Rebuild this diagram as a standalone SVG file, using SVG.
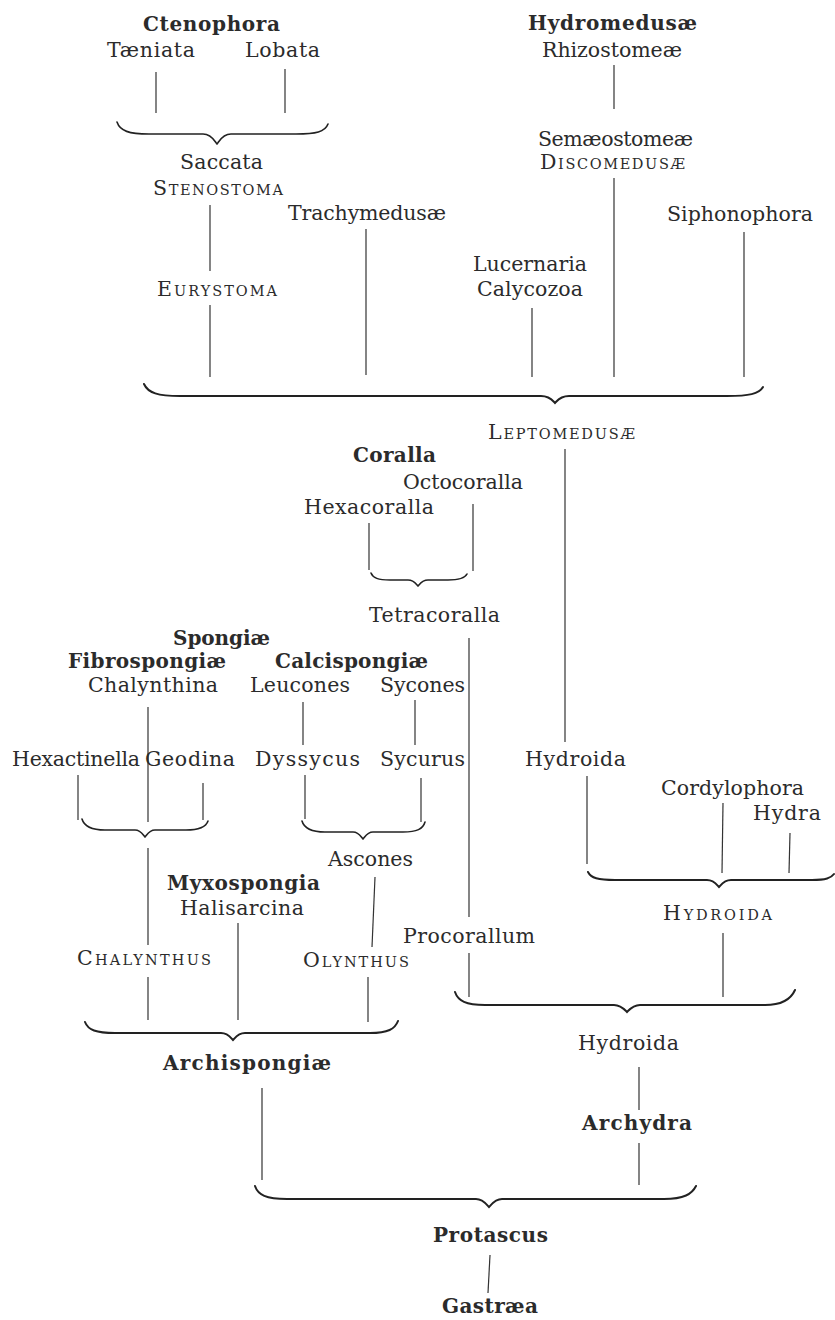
<svg xmlns="http://www.w3.org/2000/svg" width="835" height="1320" viewBox="0 0 835 1320">
<style>
.t{font-family:"DejaVu Serif","Liberation Serif",serif;font-size:20.5px;fill:#2b2b2b}
.b{font-weight:bold;font-size:20px}
.sc{font-size:14.5px}
.c line{stroke:#333;stroke-width:1.2;fill:none}
.c path{stroke:#222;stroke-width:2;fill:none;stroke-linecap:round}
.c path.s{stroke-width:1.6}
</style>
<rect width="835" height="1320" fill="#fff"/>
<g id="connectors" class="c">
<line x1="156" y1="72" x2="156" y2="113"/>
<line x1="285" y1="69" x2="285" y2="113"/>
<path class="s" d="M117,122 C120,131 129,134 149,134 L203,134 C212,134 215,142 217,144 C219,142 222,134 231,134 L296,134 C316,134 325,132 328,124"/>
<line x1="210" y1="205" x2="210" y2="271"/>
<line x1="210" y1="305" x2="210" y2="377"/>
<line x1="366" y1="229" x2="366" y2="375"/>
<line x1="614" y1="65" x2="614" y2="109"/>
<line x1="614" y1="178" x2="614" y2="377"/>
<line x1="532" y1="308" x2="532" y2="377"/>
<line x1="744" y1="232" x2="744" y2="377"/>
<path d="M144,384 C148,393 158,396 180,396 L541,396 C550,396 553,401 555,403 C557,401 560,396 569,396 L727,396 C749,396 759,394 763,387"/>
<line x1="565" y1="449" x2="565" y2="742"/>
<line x1="473" y1="504" x2="473" y2="571"/>
<line x1="369" y1="523" x2="369" y2="570"/>
<path class="s" d="M371,573 C373,578 378,580 390,580 L408,580 C414,580 416,584 418,586 C420,584 422,580 428,580 L448,580 C460,580 465,578 467,574"/>
<line x1="469" y1="638" x2="469" y2="917"/>
<line x1="469" y1="953" x2="469" y2="997"/>
<line x1="148" y1="707" x2="148" y2="822"/>
<line x1="303" y1="702" x2="303" y2="745"/>
<line x1="415" y1="700" x2="415" y2="745"/>
<line x1="78" y1="775" x2="78" y2="820"/>
<line x1="203" y1="783" x2="203" y2="820"/>
<line x1="305" y1="775" x2="305" y2="819"/>
<line x1="421" y1="778" x2="421" y2="822"/>
<path class="s" d="M82,819 C84,826 90,830 105,830 L135,830 C141,830 143,835 145,837 C147,835 149,830 155,830 L186,830 C200,830 206,827 208,821"/>
<path class="s" d="M302,821 C304,828 310,832 325,832 L353,832 C359,832 361,837 363,839 C365,837 367,832 373,832 L403,832 C417,832 423,829 425,822"/>
<line x1="148" y1="848" x2="148" y2="945"/>
<line x1="148" y1="977" x2="148" y2="1020"/>
<line x1="375" y1="877" x2="372" y2="947"/>
<line x1="368" y1="977" x2="368" y2="1022"/>
<line x1="238" y1="923" x2="238" y2="1020"/>
<path d="M85,1022 C88,1030 96,1033 115,1033 L221,1033 C228,1033 231,1038 233,1040 C235,1038 238,1033 245,1033 L370,1033 C388,1033 395,1029 398,1021"/>
<line x1="262" y1="1088" x2="262" y2="1180"/>
<line x1="587" y1="776" x2="587" y2="864"/>
<line x1="723" y1="803" x2="722" y2="873"/>
<line x1="790" y1="833" x2="789" y2="873"/>
<path d="M588,872 C591,878 598,880 615,880 L707,880 C714,880 717,885 719,887 C721,885 724,880 731,880 L812,880 C826,880 831,878 834,874"/>
<line x1="723" y1="933" x2="723" y2="997"/>
<path d="M455,992 C458,1001 466,1005 485,1005 L614,1005 C621,1005 625,1010 627,1012 C629,1010 633,1005 640,1005 L765,1005 C783,1005 791,999 795,990"/>
<line x1="639" y1="1067" x2="639" y2="1110"/>
<line x1="639" y1="1143" x2="639" y2="1185"/>
<path d="M255,1186 C258,1195 266,1199 287,1199 L476,1199 C483,1199 487,1205 489,1207 C491,1205 495,1199 502,1199 L664,1199 C684,1199 692,1194 696,1186"/>
<line x1="490" y1="1255" x2="488" y2="1293"/>
</g>
<g id="n-ctenophora"><text class="t b" x="143" y="31" textLength="137" lengthAdjust="spacing">Ctenophora</text></g>
<g id="n-taeniata"><text class="t" x="107" y="57" textLength="88" lengthAdjust="spacing">Tæniata</text></g>
<g id="n-lobata"><text class="t" x="245" y="57" textLength="75" lengthAdjust="spacing">Lobata</text></g>
<g id="n-saccata"><text class="t" x="180" y="169" textLength="83" lengthAdjust="spacing">Saccata</text></g>
<g id="n-stenostoma"><text class="t" x="153" y="195" textLength="130" lengthAdjust="spacing">S<tspan class="sc">TENOSTOMA</tspan></text></g>
<g id="n-eurystoma"><text class="t" x="157" y="296" textLength="120" lengthAdjust="spacing">E<tspan class="sc">URYSTOMA</tspan></text></g>
<g id="n-trachymedusae"><text class="t" x="288" y="220" textLength="158" lengthAdjust="spacing">Trachymedusæ</text></g>
<g id="n-hydromedusae"><text class="t b" x="528" y="30" textLength="169" lengthAdjust="spacing">Hydromedusæ</text></g>
<g id="n-rhizostomeae"><text class="t" x="542" y="57" textLength="140" lengthAdjust="spacing">Rhizostomeæ</text></g>
<g id="n-semaeostomeae"><text class="t" x="538" y="146" textLength="155" lengthAdjust="spacing">Semæostomeæ</text></g>
<g id="n-discomedusae"><text class="t" x="540" y="169" textLength="145" lengthAdjust="spacing">D<tspan class="sc">ISCOMEDUSÆ</tspan></text></g>
<g id="n-siphonophora"><text class="t" x="667" y="221" textLength="146" lengthAdjust="spacing">Siphonophora</text></g>
<g id="n-lucernaria"><text class="t" x="473" y="271" textLength="114" lengthAdjust="spacing">Lucernaria</text></g>
<g id="n-calycozoa"><text class="t" x="477" y="296" textLength="106" lengthAdjust="spacing">Calycozoa</text></g>
<g id="n-leptomedusae"><text class="t" x="488" y="439" textLength="147" lengthAdjust="spacing">L<tspan class="sc">EPTOMEDUSÆ</tspan></text></g>
<g id="n-coralla"><text class="t b" x="353" y="462" textLength="83" lengthAdjust="spacing">Coralla</text></g>
<g id="n-octocoralla"><text class="t" x="403" y="489" textLength="120" lengthAdjust="spacing">Octocoralla</text></g>
<g id="n-hexacoralla"><text class="t" x="304" y="514" textLength="130" lengthAdjust="spacing">Hexacoralla</text></g>
<g id="n-tetracoralla"><text class="t" x="369" y="622" textLength="131" lengthAdjust="spacing">Tetracoralla</text></g>
<g id="n-spongiae"><text class="t b" x="173" y="645" textLength="97" lengthAdjust="spacing">Spongiæ</text></g>
<g id="n-fibrospongiae"><text class="t b" x="68" y="668" textLength="158" lengthAdjust="spacing">Fibrospongiæ</text></g>
<g id="n-calcispongiae"><text class="t b" x="275" y="668" textLength="153" lengthAdjust="spacing">Calcispongiæ</text></g>
<g id="n-chalynthina"><text class="t" x="88" y="692" textLength="130" lengthAdjust="spacing">Chalynthina</text></g>
<g id="n-leucones"><text class="t" x="250" y="692" textLength="100" lengthAdjust="spacing">Leucones</text></g>
<g id="n-sycones"><text class="t" x="380" y="692" textLength="85" lengthAdjust="spacing">Sycones</text></g>
<g id="n-hexactinella"><text class="t" x="12" y="766" textLength="128" lengthAdjust="spacing">Hexactinella</text></g>
<g id="n-geodina"><text class="t" x="145" y="766" textLength="90" lengthAdjust="spacing">Geodina</text></g>
<g id="n-dyssycus"><text class="t" x="255" y="766" textLength="105" lengthAdjust="spacing">Dyssycus</text></g>
<g id="n-sycurus"><text class="t" x="380" y="766" textLength="85" lengthAdjust="spacing">Sycurus</text></g>
<g id="n-hydroida1"><text class="t" x="525" y="766" textLength="101" lengthAdjust="spacing">Hydroida</text></g>
<g id="n-cordylophora"><text class="t" x="661" y="795" textLength="143" lengthAdjust="spacing">Cordylophora</text></g>
<g id="n-hydra"><text class="t" x="753" y="820" textLength="68" lengthAdjust="spacing">Hydra</text></g>
<g id="n-ascones"><text class="t" x="328" y="866" textLength="85" lengthAdjust="spacing">Ascones</text></g>
<g id="n-myxospongia"><text class="t b" x="167" y="890" textLength="153" lengthAdjust="spacing">Myxospongia</text></g>
<g id="n-halisarcina"><text class="t" x="180" y="915" textLength="124" lengthAdjust="spacing">Halisarcina</text></g>
<g id="n-hydroida-sc"><text class="t" x="663" y="920" textLength="109" lengthAdjust="spacing">H<tspan class="sc">YDROIDA</tspan></text></g>
<g id="n-procorallum"><text class="t" x="403" y="943" textLength="132" lengthAdjust="spacing">Procorallum</text></g>
<g id="n-chalynthus"><text class="t" x="77" y="965" textLength="134" lengthAdjust="spacing">C<tspan class="sc">HALYNTHUS</tspan></text></g>
<g id="n-olynthus"><text class="t" x="303" y="967" textLength="106" lengthAdjust="spacing">O<tspan class="sc">LYNTHUS</tspan></text></g>
<g id="n-archispongiae"><text class="t b" x="163" y="1070" textLength="168" lengthAdjust="spacing">Archispongiæ</text></g>
<g id="n-hydroida2"><text class="t" x="578" y="1050" textLength="101" lengthAdjust="spacing">Hydroida</text></g>
<g id="n-archydra"><text class="t b" x="582" y="1130" textLength="110" lengthAdjust="spacing">Archydra</text></g>
<g id="n-protascus"><text class="t b" x="433" y="1242" textLength="115" lengthAdjust="spacing">Protascus</text></g>
<g id="n-gastraea"><text class="t b" x="442" y="1313" textLength="96" lengthAdjust="spacing">Gastræa</text></g>
</svg>
